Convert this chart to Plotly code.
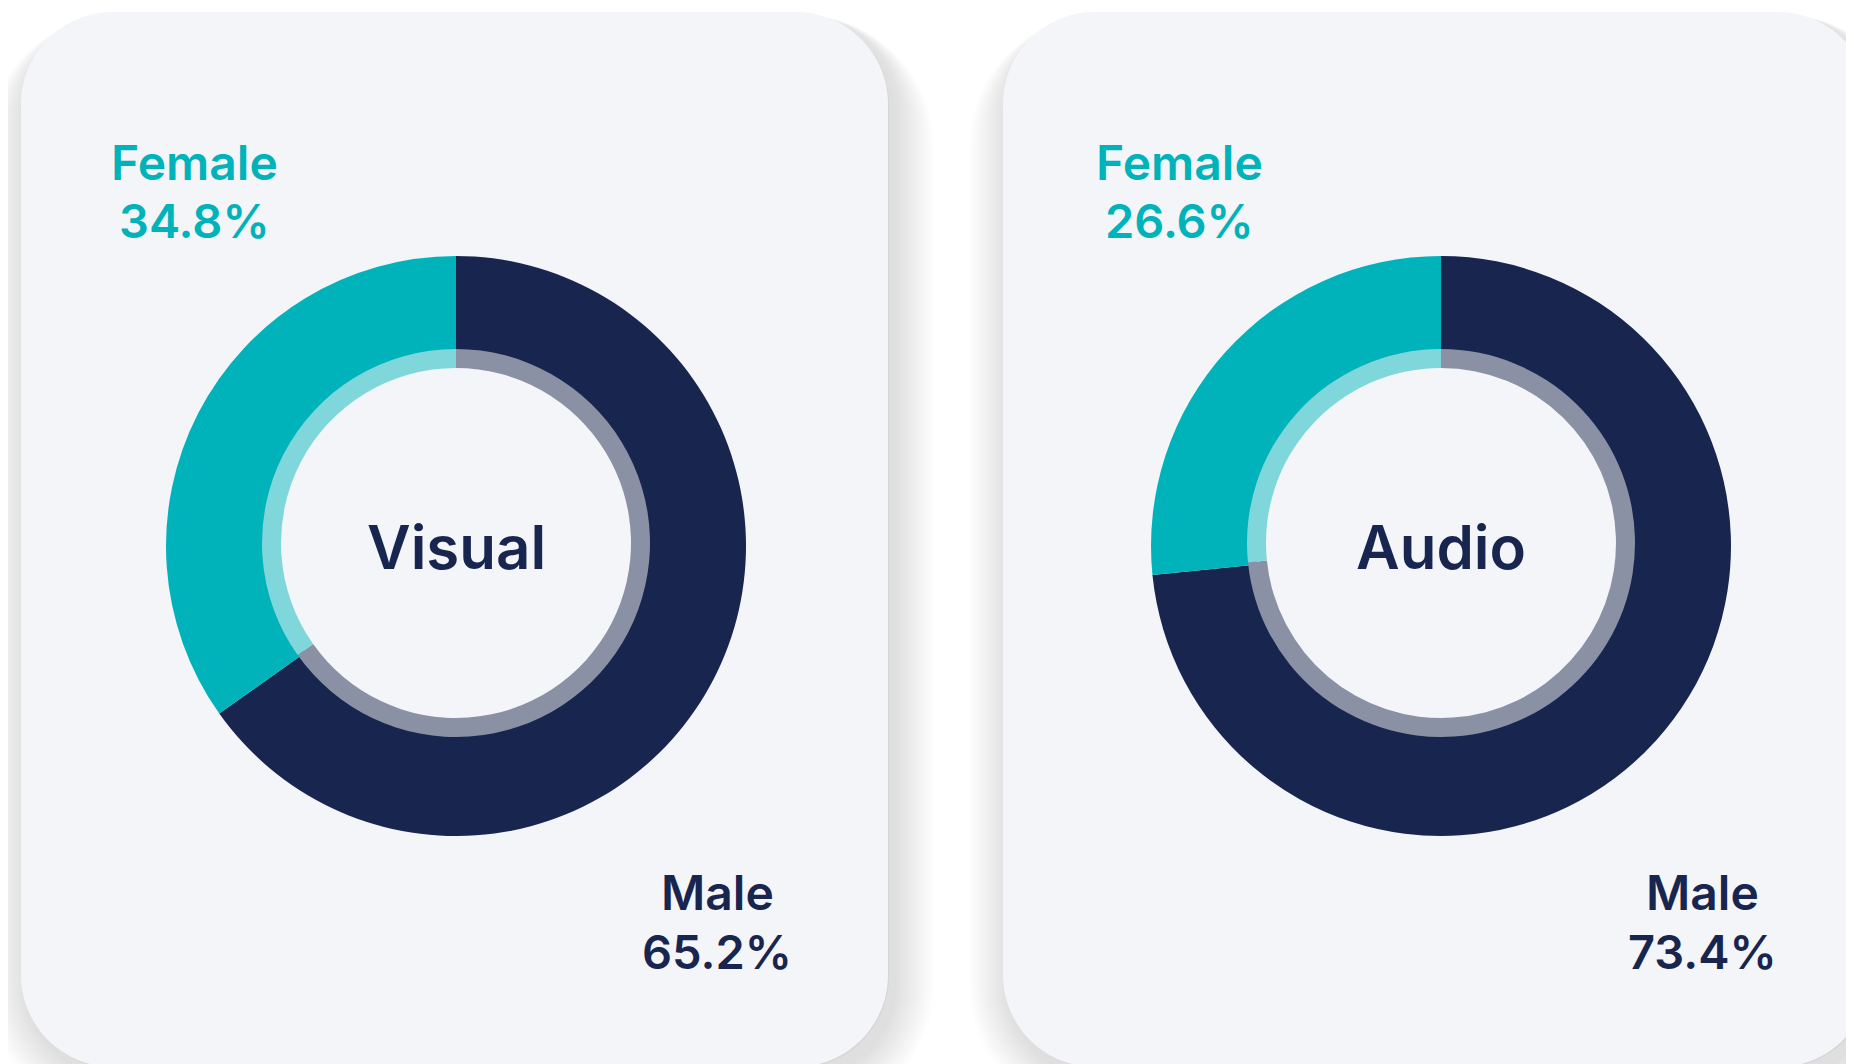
import plotly.graph_objects as go

# ---------------- data ----------------
categories = ["Female", "Male"]
visual_values = [34.8, 65.2]
audio_values = [26.6, 73.4]
panel_titles = ["Visual", "Audio"]

# ---------------- style ----------------
W, H = 1854, 1064
OFF = 8  # default page body margin
FW, FH = W - OFF, H - OFF
TEAL = "#00b3ba"
NAVY = "#18264f"
TEAL_LIGHT = "#7fd7dc"
NAVY_LIGHT = "#8a91a4"
CARD_BG = "#f4f5f9"
FONT = "Inter"


def px(x):
    return (x - OFF) / FW


def py(y):
    return 1 - (y - OFF) / FH


def rounded_path(x0, y0, x1, y1, r):
    k = 0.5523 * r

    def P(x, y):
        return f"{px(x):.5f},{py(y):.5f}"
    d = f"M {P(x0 + r, y0)} L {P(x1 - r, y0)} "
    d += f"C {P(x1 - r + k, y0)} {P(x1, y0 + r - k)} {P(x1, y0 + r)} "
    d += f"L {P(x1, y1 - r)} "
    d += f"C {P(x1, y1 - r + k)} {P(x1 - r + k, y1)} {P(x1 - r, y1)} "
    d += f"L {P(x0 + r, y1)} "
    d += f"C {P(x0 + r - k, y1)} {P(x0, y1 - r + k)} {P(x0, y1 - r)} "
    d += f"L {P(x0, y0 + r)} "
    d += f"C {P(x0, y0 + r - k)} {P(x0 + r - k, y0)} {P(x0 + r, y0)} Z"
    return d


fig = go.Figure()

panels = [
    dict(values=visual_values, title=panel_titles[0], cx=456, card=(21, 12, 888, 1067)),
    dict(values=audio_values, title=panel_titles[1], cx=1441, card=(1003, 12, 1870, 1067)),
]

shapes = []
annotations = []
R_OUT = 290
R_MID = 194
R_IN = 175
R_OUT_HOLE = 185
CY_OUT = 546
CY_IN = 543
CARD_R = 92

# plotly lays the first slice clockwise from 12 o'clock, so feed slices
# in reverse order to put Female on the left of 12 o'clock
order = [1, 0]
lab = [categories[i] for i in order]
col_out = [[TEAL, NAVY][i] for i in order]
col_in = [[TEAL_LIGHT, NAVY_LIGHT][i] for i in order]

for p in panels:
    x0, y0, x1, y1 = p["card"]
    # soft shadow layers
    for i in range(1, 17):
        e = i * 2.5
        top = max(y0 - e + 10, y0 + 3)
        shapes.append(dict(
            type="path", xref="paper", yref="paper", layer="below",
            path=rounded_path(x0 - e + 6, top, x1 + e + 6, y1 + e + 10, CARD_R + e),
            fillcolor="rgba(30,35,60,0.008)", line=dict(width=0),
        ))
    shapes.append(dict(
        type="path", xref="paper", yref="paper", layer="below",
        path=rounded_path(x0 + 1, y0 + 1, x1 + 1, y1 + 1, CARD_R),
        fillcolor="rgba(30,35,60,0.05)", line=dict(width=0),
    ))
    shapes.append(dict(
        type="path", xref="paper", yref="paper", layer="below",
        path=rounded_path(x0, y0, x1, y1, CARD_R),
        fillcolor=CARD_BG, line=dict(width=0),
    ))

    cx = p["cx"]
    vals = [p["values"][i] for i in order]
    # outer donut
    fig.add_trace(go.Pie(
        labels=lab, values=vals, sort=False, direction="clockwise",
        rotation=0, hole=R_OUT_HOLE / R_OUT, textinfo="none", hoverinfo="label+percent",
        marker=dict(colors=col_out, line=dict(width=0)),
        domain=dict(x=[px(cx - R_OUT), px(cx + R_OUT)], y=[py(CY_OUT + R_OUT), py(CY_OUT - R_OUT)]),
        showlegend=False,
    ))
    # inner thin ring
    fig.add_trace(go.Pie(
        labels=lab, values=vals, sort=False, direction="clockwise",
        rotation=0, hole=R_IN / R_MID, textinfo="none", hoverinfo="skip",
        marker=dict(colors=col_in, line=dict(width=0)),
        domain=dict(x=[px(cx - R_MID), px(cx + R_MID)], y=[py(CY_IN + R_MID), py(CY_IN - R_MID)]),
        showlegend=False,
    ))

    # center title
    annotations.append(dict(
        x=px(cx), y=py(547), xref="paper", yref="paper", showarrow=False,
        text=p["title"], xanchor="center", yanchor="middle",
        font=dict(family=FONT, size=60, color=NAVY, weight=600),
    ))
    # female label (upper left)
    fx = cx - 262
    annotations.append(dict(
        x=px(fx), y=py(163), xref="paper", yref="paper", showarrow=False,
        text=categories[0], xanchor="center", yanchor="middle",
        font=dict(family=FONT, size=48, color=TEAL, weight=600),
    ))
    annotations.append(dict(
        x=px(fx), y=py(221), xref="paper", yref="paper", showarrow=False,
        text=f"{p['values'][0]:.1f}%", xanchor="center", yanchor="middle",
        font=dict(family=FONT, size=47, color=TEAL, weight=600),
    ))
    # male label (lower right)
    mx = cx + 261
    annotations.append(dict(
        x=px(mx), y=py(892), xref="paper", yref="paper", showarrow=False,
        text=categories[1], xanchor="center", yanchor="middle",
        font=dict(family=FONT, size=48, color=NAVY, weight=600),
    ))
    annotations.append(dict(
        x=px(mx), y=py(951), xref="paper", yref="paper", showarrow=False,
        text=f"{p['values'][1]:.1f}%", xanchor="center", yanchor="middle",
        font=dict(family=FONT, size=47, color=NAVY, weight=600),
    ))

fig.update_layout(
    width=FW, height=FH,
    margin=dict(l=0, r=0, t=0, b=0),
    paper_bgcolor="white", plot_bgcolor="white",
    shapes=shapes, annotations=annotations,
    showlegend=False,
)

fig.write_html("out.html", config={"displayModeBar": False})
